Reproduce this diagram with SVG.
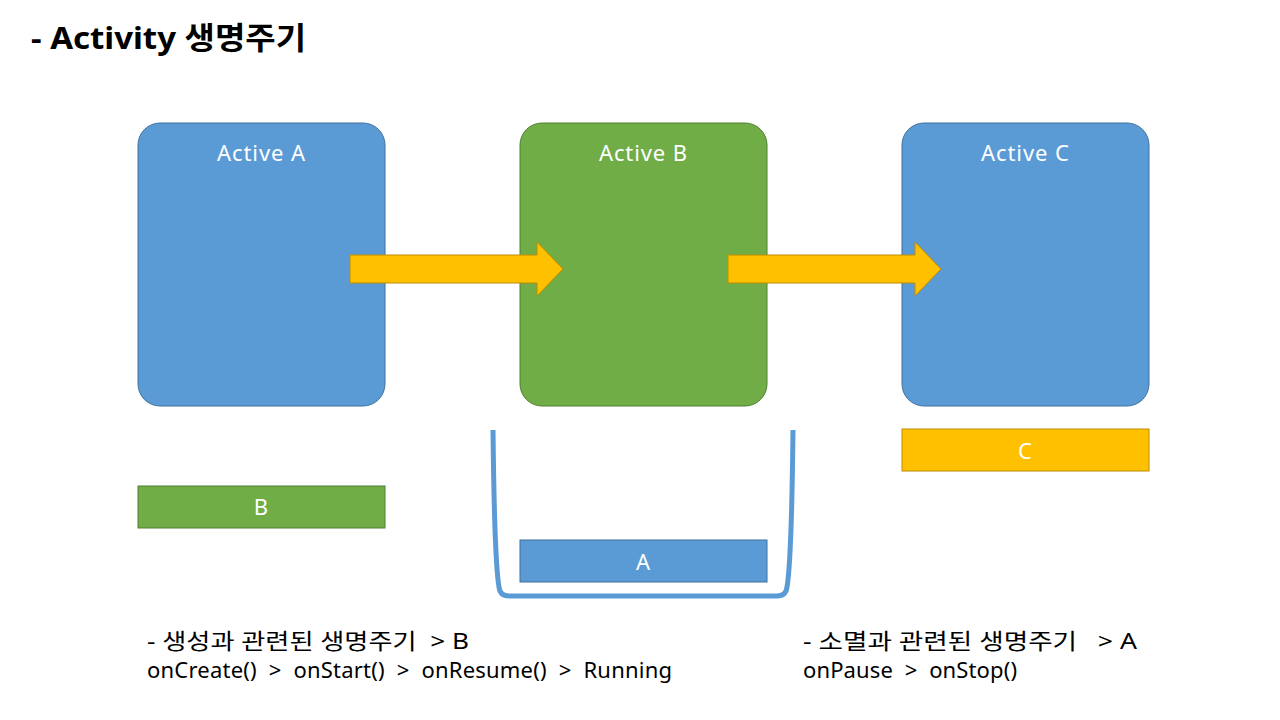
<svg xmlns="http://www.w3.org/2000/svg" width="1280" height="720" viewBox="0 0 1280 720">
<style>
text{font-family:"Noto Sans","Noto Sans CJK KR",sans-serif;white-space:pre;}
.blue{fill:#5B9BD5;stroke:#41719C;stroke-width:1;}
.green{fill:#70AD47;stroke:#507E32;stroke-width:1;}
.gold{fill:#FFC000;stroke:#BC8C00;stroke-width:1;}
.lbl{fill:#FFFFFF;font-size:22px;text-anchor:middle;}
.note{fill:#000000;font-size:22px;}
</style>
<rect width="1280" height="720" fill="#FFFFFF"/>
<text x="31" y="49" textLength="275" lengthAdjust="spacingAndGlyphs" style="font-size:31px;font-weight:bold;fill:#000">- Activity 생명주기</text>
<g id="activeA"><rect class="blue" x="138" y="123" width="247" height="283" rx="22"/><text class="lbl" x="261" y="161" textLength="88">Active A</text></g>
<g id="activeB"><rect class="green" x="520" y="123" width="247" height="283" rx="22"/><text class="lbl" x="643" y="161" textLength="88">Active B</text></g>
<g id="activeC"><rect class="blue" x="902" y="123" width="247" height="283" rx="22"/><text class="lbl" x="1025" y="161" textLength="88">Active C</text></g>
<g id="connectors">
<path class="gold" d="M350,255 H537 V242 L563,269 L537,296 V283 H350 Z"/>
<path class="gold" d="M728,255 H915 V242 L941,269 L915,296 V283 H728 Z"/>
</g>
<g id="stack"><path d="M493,430 C494,520 496,570 499,587 Q500,596 509,596 H777 Q786,596 787,587 C790,570 792,520 793,430" fill="none" stroke="#5B9BD5" stroke-width="5"/></g>
<g id="barB"><rect class="green" x="138" y="486" width="247" height="42"/><text class="lbl" x="261" y="515">B</text></g>
<g id="barA"><rect class="blue" x="520" y="540" width="247" height="42"/><text class="lbl" x="643" y="570">A</text></g>
<g id="barC"><rect class="gold" x="902" y="429" width="247" height="42"/><text class="lbl" x="1025" y="459">C</text></g>
<g id="notes" xml:space="preserve">
<text class="note" x="147" y="649" textLength="322" lengthAdjust="spacingAndGlyphs">- 생성과 관련된 생명주기  &gt; B</text>
<text class="note" x="147" y="678" textLength="525">onCreate()  &gt;  onStart()  &gt;  onResume()  &gt;  Running</text>
<text class="note" x="803" y="649" textLength="334" lengthAdjust="spacingAndGlyphs">- 소멸과 관련된 생명주기   &gt; A</text>
<text class="note" x="803" y="678" textLength="214">onPause  &gt;  onStop()</text>
</g>
</svg>
